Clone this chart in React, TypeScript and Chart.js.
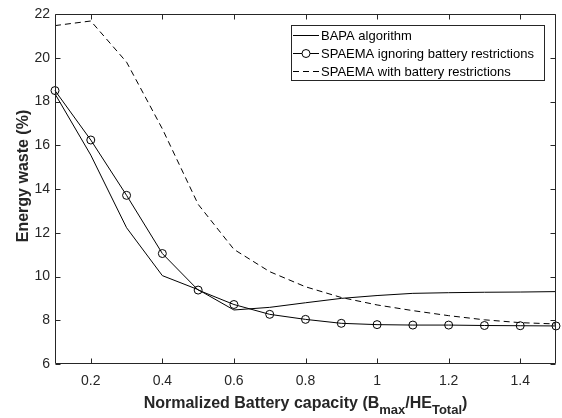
import React, { useEffect, useRef } from "react";
import { Chart, registerables } from "chart.js";

Chart.register(...registerables);

// ---- data ----
const xValues = [0.1, 0.2, 0.3, 0.4, 0.5, 0.6, 0.7, 0.8, 0.9, 1.0, 1.1, 1.2, 1.3, 1.4, 1.5];
const bapa = [18.35, 15.55, 12.23, 10.04, 9.4, 8.47, 8.59, 8.8, 9.0, 9.13, 9.23, 9.26, 9.28, 9.29, 9.31];
const spaemaIgnoring = [18.5, 16.24, 13.71, 11.05, 9.38, 8.72, 8.27, 8.04, 7.86, 7.8, 7.78, 7.78, 7.76, 7.75, 7.74];
const spaemaWith = [21.47, 21.68, 19.8, 16.75, 13.3, 11.24, 10.22, 9.53, 9.04, 8.7, 8.44, 8.21, 8.02, 7.89, 7.83];

const xTicks = [0.2, 0.4, 0.6, 0.8, 1.0, 1.2, 1.4];
const yTicks = [6, 8, 10, 12, 14, 16, 18, 20, 22];
const seriesLabels = [
  "BAPA algorithm",
  "SPAEMA ignoring battery restrictions",
  "SPAEMA with battery restrictions",
];
const yTitle = "Energy waste (%)";
const xTitleParts: { t: string; sub: boolean }[] = [
  { t: "Normalized Battery capacity (B", sub: false },
  { t: "max", sub: true },
  { t: "/HE", sub: false },
  { t: "Total", sub: true },
  { t: ")", sub: false },
];

const FONT = '"Liberation Sans", Arial, Helvetica, sans-serif';
const AXIS = "#262626";

const framePlugin = {
  id: "matlabFrame",
  afterDraw(chart: any) {
    const { ctx, chartArea: a, scales } = chart;
    const L = Math.round(a.left) + 0.5;
    const R = Math.round(a.right) - 0.5;
    const T = Math.round(a.top) + 0.5;
    const B = Math.round(a.bottom) - 0.5;
    ctx.save();
    ctx.strokeStyle = AXIS;
    ctx.lineWidth = 1;
    ctx.beginPath();
    ctx.rect(L, T, R - L, B - T);
    ctx.stroke();
    const tl = 5;
    ctx.beginPath();
    for (const v of xTicks) {
      const px = Math.round(scales.x.getPixelForValue(v)) + 0.5;
      ctx.moveTo(px, B);
      ctx.lineTo(px, B - tl);
      ctx.moveTo(px, T);
      ctx.lineTo(px, T + tl);
    }
    for (const v of yTicks) {
      const py = Math.round(scales.y.getPixelForValue(v)) + 0.5;
      ctx.moveTo(L, py);
      ctx.lineTo(L + tl, py);
      ctx.moveTo(R, py);
      ctx.lineTo(R - tl, py);
    }
    ctx.stroke();

    // legend
    const lx = 291.5, ly = 25.5, lw = 253, lh = 55;
    ctx.fillStyle = "#ffffff";
    ctx.fillRect(lx, ly, lw, lh);
    ctx.strokeStyle = AXIS;
    ctx.strokeRect(lx, ly, lw, lh);
    const rows = [35.5, 53.5, 71.5];
    ctx.font = `13px ${FONT}`;
    ctx.textBaseline = "middle";
    ctx.textAlign = "left";
    rows.forEach((ry, i) => {
      ctx.strokeStyle = "#000";
      ctx.lineWidth = 1;
      ctx.setLineDash(i === 2 ? [6, 4] : []);
      ctx.beginPath();
      ctx.moveTo(293, ry);
      ctx.lineTo(319, ry);
      ctx.stroke();
      ctx.setLineDash([]);
      if (i === 1) {
        ctx.fillStyle = "#fff";
        ctx.beginPath();
        ctx.arc(306, ry, 4, 0, Math.PI * 2);
        ctx.fill();
        ctx.stroke();
      }
      ctx.fillStyle = "#000";
      ctx.fillText(seriesLabels[i], 321, ry + 1);
    });

    // x title with subscripts
    const mainFont = `bold 16px ${FONT}`;
    const subFont = `bold 13px ${FONT}`;
    let total = 0;
    for (const p of xTitleParts) {
      ctx.font = p.sub ? subFont : mainFont;
      total += ctx.measureText(p.t).width;
    }
    let cx = (a.left + a.right) / 2 - total / 2;
    ctx.fillStyle = AXIS;
    ctx.textBaseline = "alphabetic";
    for (const p of xTitleParts) {
      ctx.font = p.sub ? subFont : mainFont;
      ctx.fillText(p.t, cx, p.sub ? 413.5 : 408);
      cx += ctx.measureText(p.t).width;
    }

    // y title
    ctx.save();
    ctx.translate(28, 176);
    ctx.rotate(-Math.PI / 2);
    ctx.font = mainFont;
    ctx.textAlign = "center";
    ctx.textBaseline = "alphabetic";
    ctx.fillText(yTitle, 0, 0);
    ctx.restore();

    ctx.restore();
  },
};

const fmt = (v: number) => String(Math.round(v * 10) / 10);

export default function App() {
  const ref = useRef<HTMLCanvasElement>(null);
  useEffect(() => {
    if (!ref.current) return;
    const toPts = (ys: number[]) => xValues.map((x, i) => ({ x, y: ys[i] }));
    const chart = new Chart(ref.current, {
      type: "line",
      data: {
        datasets: [
          {
            label: seriesLabels[0],
            data: toPts(bapa),
            borderColor: "#000",
            borderWidth: 1,
            pointRadius: 0,
            clip: false as any,
          },
          {
            label: seriesLabels[1],
            data: toPts(spaemaIgnoring),
            borderColor: "#000",
            borderWidth: 1,
            pointRadius: 4,
            pointStyle: "circle",
            pointBorderColor: "#000",
            pointBackgroundColor: "rgba(0,0,0,0)",
            pointBorderWidth: 1,
            clip: false as any,
          },
          {
            label: seriesLabels[2],
            data: toPts(spaemaWith),
            borderColor: "#000",
            borderWidth: 1,
            borderDash: [6, 4],
            pointRadius: 0,
            clip: false as any,
          },
        ],
      },
      options: {
        responsive: false,
        animation: false,
        events: [],
        layout: { padding: { top: 14, right: 6, left: 0, bottom: 0 } },
        plugins: { legend: { display: false }, tooltip: { enabled: false } },
        scales: {
          x: {
            type: "linear",
            min: 0.1,
            max: 1.5,
            grid: { display: false, drawTicks: false },
            border: { display: false },
            ticks: {
              font: { family: FONT, size: 14 },
              color: AXIS,
              padding: 9,
              maxRotation: 0,
              autoSkip: false,
              callback: (v: any) => fmt(Number(v)),
            },
            afterBuildTicks: (s: any) => {
              s.ticks = xTicks.map((v) => ({ value: v }));
            },
            afterFit: (s: any) => {
              s.height = 54;
            },
          },
          y: {
            type: "linear",
            min: 6,
            max: 22,
            grid: { display: false, drawTicks: false },
            border: { display: false },
            ticks: {
              font: { family: FONT, size: 14 },
              color: AXIS,
              padding: 5,
              autoSkip: false,
              callback: (v: any) => fmt(Number(v)),
            },
            afterBuildTicks: (s: any) => {
              s.ticks = yTicks.map((v) => ({ value: v }));
            },
            afterFit: (s: any) => {
              s.width = 55;
            },
          },
        },
      },
      plugins: [framePlugin],
    });
    return () => chart.destroy();
  }, []);
  return (
    <div style={{ position: "absolute", left: 0, top: 0, width: 562, height: 418, background: "#fff" }}>
      <canvas ref={ref} width={562} height={418} style={{ display: "block" }} />
    </div>
  );
}
